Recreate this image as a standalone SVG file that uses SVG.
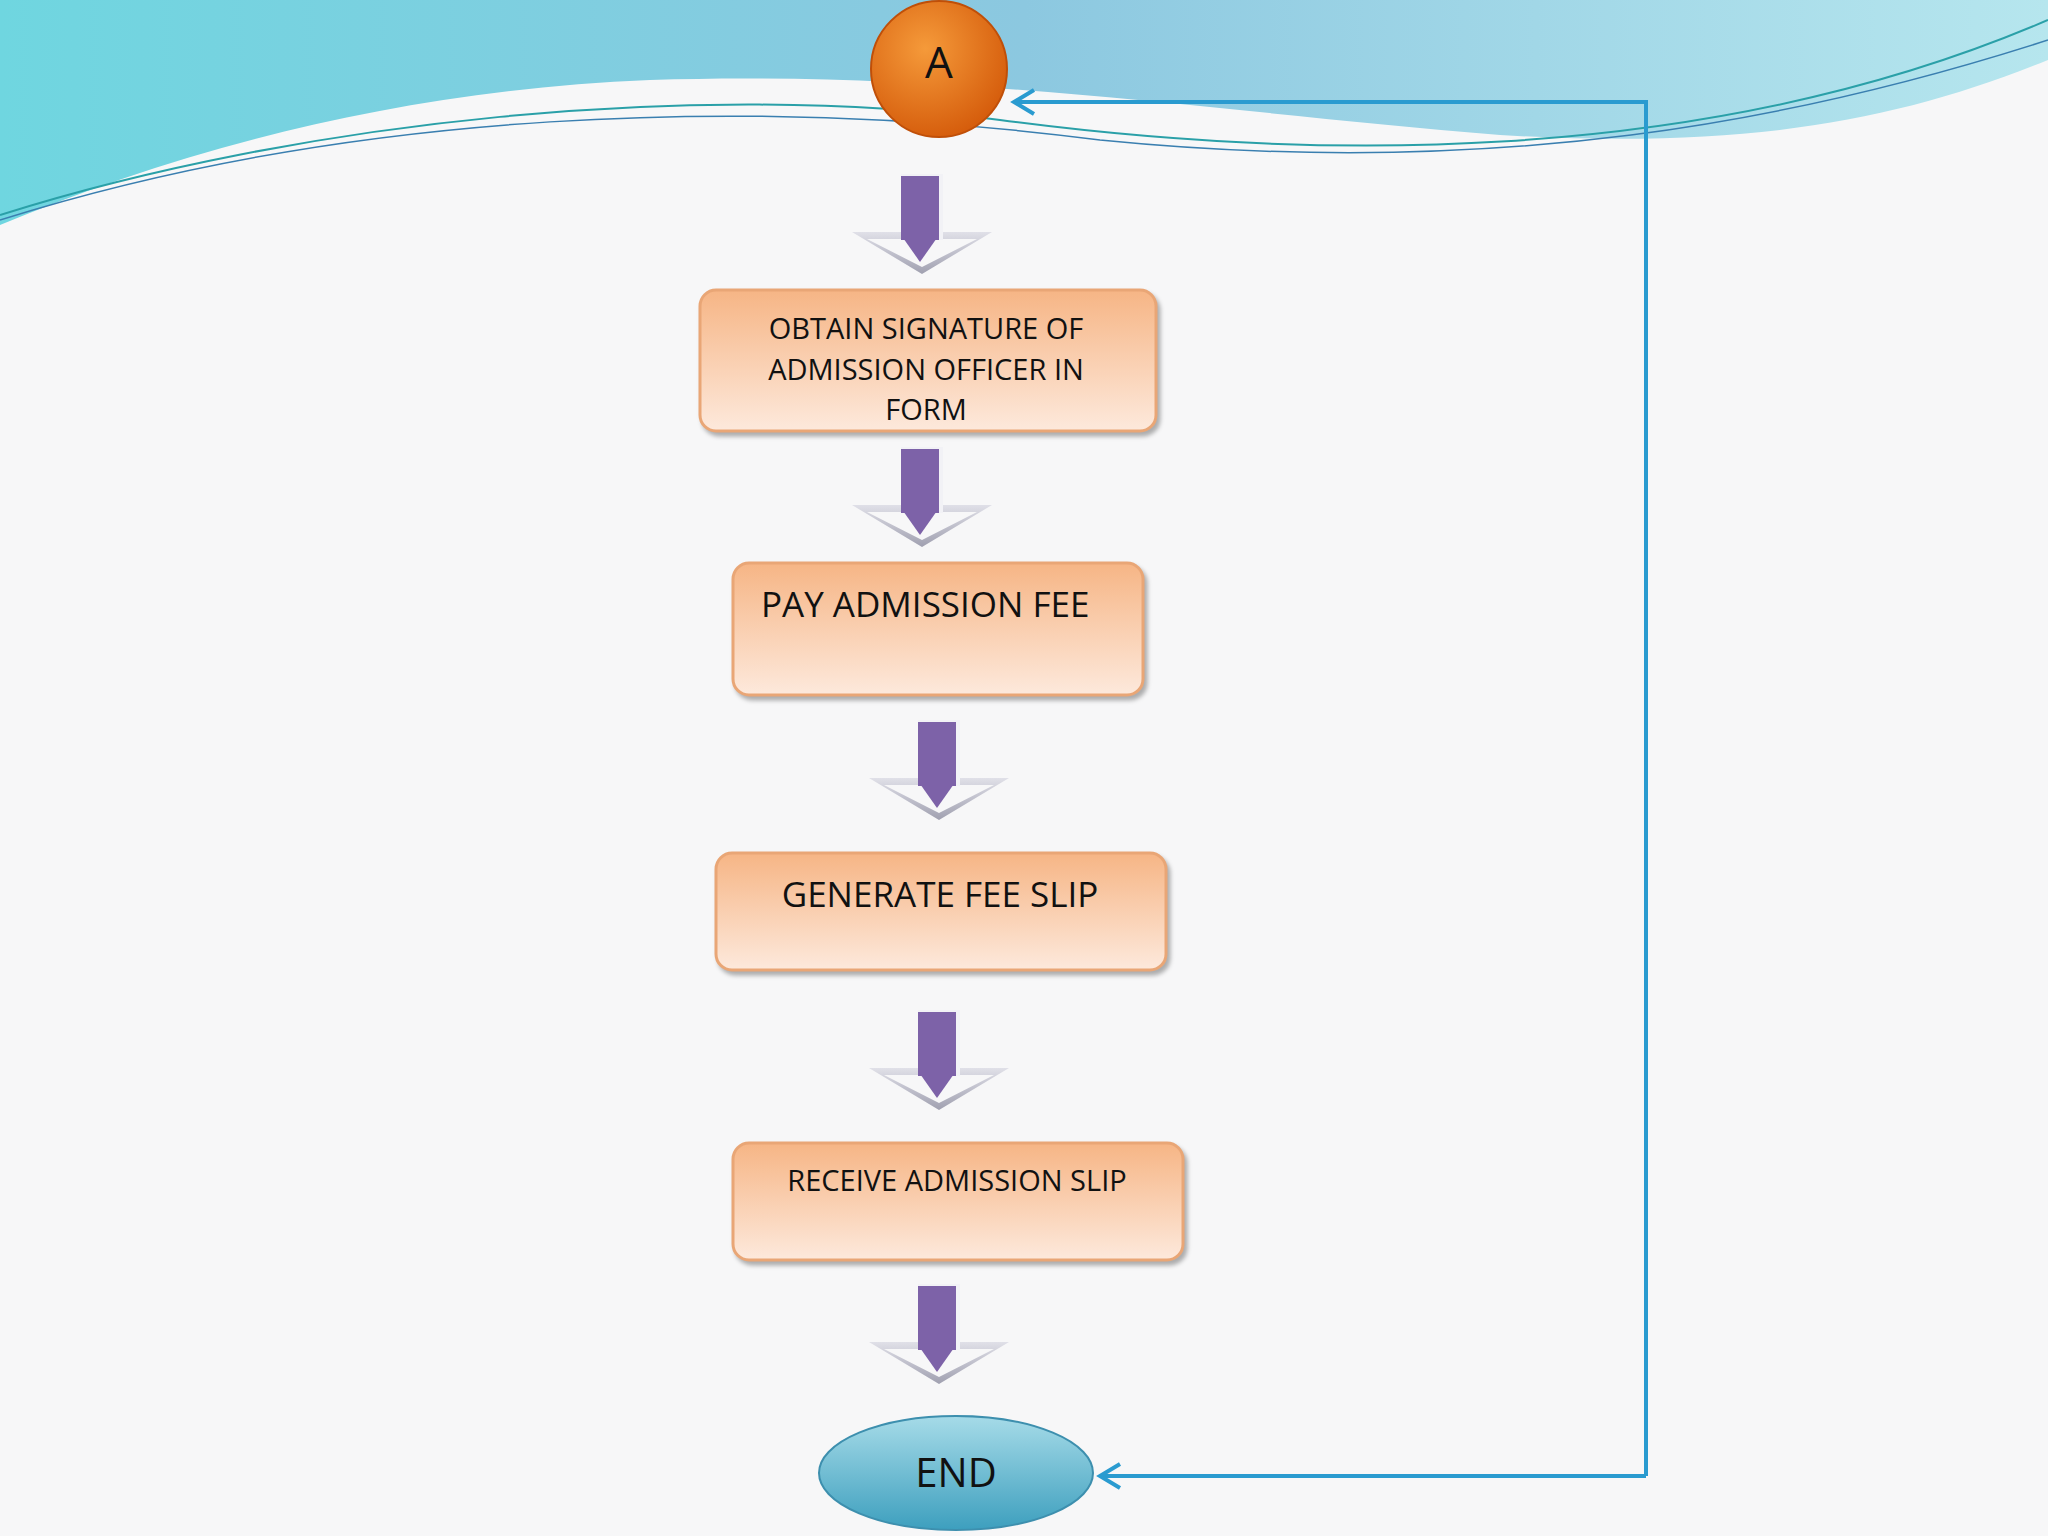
<svg xmlns="http://www.w3.org/2000/svg" width="2048" height="1536" viewBox="0 0 2048 1536">
<defs>
<linearGradient id="sky" x1="0" y1="0" x2="1" y2="0"><stop offset="0" stop-color="#6fd6e0"/><stop offset="0.5" stop-color="#8cc8e0"/><stop offset="1" stop-color="#b6e6ee"/></linearGradient>
<linearGradient id="box" x1="0" y1="0" x2="0" y2="1"><stop offset="0" stop-color="#f6b585"/><stop offset="1" stop-color="#fde9dc"/></linearGradient>
<radialGradient id="orange" cx="0.4" cy="0.35" r="0.7"><stop offset="0" stop-color="#f59a3a"/><stop offset="1" stop-color="#d45a0a"/></radialGradient>
<linearGradient id="end" x1="0" y1="0" x2="0" y2="1"><stop offset="0" stop-color="#a6dbe8"/><stop offset="1" stop-color="#3d9fbe"/></linearGradient>
<linearGradient id="head" x1="0" y1="0" x2="0" y2="1"><stop offset="0" stop-color="#e0e0e8"/><stop offset="1" stop-color="#a0a0b0"/></linearGradient>
<marker id="open" markerWidth="26" markerHeight="30" refX="22" refY="15" orient="auto" markerUnits="userSpaceOnUse"><path d="M2,3 L22,15 L2,27" fill="none" stroke="#2a9bd0" stroke-width="4"/></marker>
<g id="arr"><rect x="-21" y="-58" width="42" height="66" fill="#f2f2f6"/><rect x="-21" y="-56" width="38" height="64" fill="#7d62a8"/><path d="M-70,0 L-21,0 L-21,7 L-55,7 L0,35 L55,7 L21,7 L21,0 L70,0 L0,42 Z" fill="url(#head)"/><path d="M-21,3 L17,3 L-2,30 Z" fill="#7d62a8"/></g>
</defs>
<style>
.b{fill:url(#box);stroke:#e9a676;stroke-width:3;filter:drop-shadow(3px 4px 2px rgba(0,0,0,0.3))}
.t{font-family:"Open Sans","Liberation Sans",sans-serif;fill:#111}
</style>
<rect width="2048" height="1536" fill="#f7f7f8"/>
<path d="M0,0 H2048 V60 C1900,120 1750,150 1500,135 C1200,110 950,70 650,80 C400,90 180,150 0,225 Z" fill="url(#sky)"/>
<path d="M0,215 C300,120 700,80 1000,120 C1300,160 1700,170 2048,20" fill="none" stroke="#2aa0a8" stroke-width="2"/>
<path d="M0,220 C350,110 750,95 1100,140 C1500,180 1800,120 2048,40" fill="none" stroke="#3a7fb0" stroke-width="1.5"/>
<g id="connectors">
<path d="M1646,1476 H1100" fill="none" stroke="#2a9bd0" stroke-width="4" marker-end="url(#open)"/>
<path d="M1646,1476 V102 H1014" fill="none" stroke="#2a9bd0" stroke-width="4" marker-end="url(#open)"/>
<use href="#arr" x="922" y="232"/>
<use href="#arr" x="922" y="505"/>
<use href="#arr" x="939" y="778"/>
<use href="#arr" x="939" y="1068"/>
<use href="#arr" x="939" y="1342"/>
</g>
<g id="A"><circle cx="939" cy="69" r="68" fill="url(#orange)" stroke="#c04f08" stroke-width="2"/><text class="t" x="939" y="78" font-size="44" text-anchor="middle">A</text></g>
<g id="n1"><rect class="b" x="700" y="290" width="456" height="141" rx="16"/><text class="t" font-size="29" text-anchor="middle"><tspan x="926" y="339">OBTAIN SIGNATURE OF</tspan><tspan x="926" y="380">ADMISSION OFFICER IN</tspan><tspan x="926" y="420">FORM</tspan></text></g>
<g id="n2"><rect class="b" x="733" y="563" width="410" height="132" rx="16"/><text class="t" x="761" y="617" font-size="35">PAY ADMISSION FEE</text></g>
<g id="n3"><rect class="b" x="716" y="853" width="450" height="117" rx="16"/><text class="t" x="940" y="907" font-size="35" text-anchor="middle">GENERATE FEE SLIP</text></g>
<g id="n4"><rect class="b" x="733" y="1143" width="450" height="117" rx="16"/><text class="t" x="957" y="1191" font-size="29" text-anchor="middle">RECEIVE ADMISSION SLIP</text></g>
<g id="end"><ellipse cx="956" cy="1473" rx="137" ry="57" fill="url(#end)" stroke="#3d8fae" stroke-width="2"/><text class="t" x="956" y="1487" font-size="40" text-anchor="middle">END</text></g>
</svg>
